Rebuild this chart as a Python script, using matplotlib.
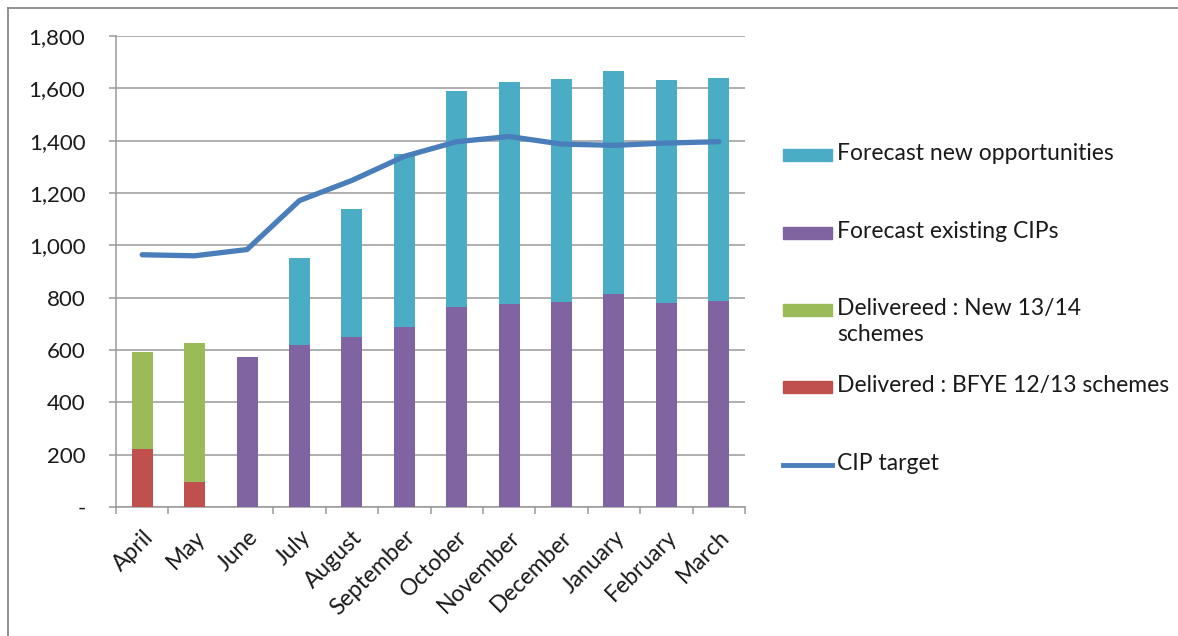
import matplotlib
matplotlib.use("Agg")
import matplotlib.pyplot as plt
import numpy as np
from matplotlib.ticker import FuncFormatter, MultipleLocator
from matplotlib.patches import Rectangle
from matplotlib.lines import Line2D

months = ["April", "May", "June", "July", "August", "September", "October",
          "November", "December", "January", "February", "March"]
delivered_bfye = [222, 95, 0, 0, 0, 0, 0, 0, 0, 0, 0, 0]
delivered_new = [372, 530, 0, 0, 0, 0, 0, 0, 0, 0, 0, 0]
forecast_existing = [0, 0, 575, 619, 648, 688, 765, 774, 785, 815, 781, 789]
forecast_new = [0, 0, 0, 333, 490, 661, 823, 852, 850, 850, 850, 852]
cip_target = [964, 960, 984, 1171, 1248, 1340, 1396, 1416, 1387, 1382, 1391, 1396]

legend_labels = ["Forecast new opportunities", "Forecast existing CIPs",
                 "Delivereed : New 13/14\nschemes", "Delivered : BFYE 12/13 schemes",
                 "CIP target"]

c_new = "#4BACC6"
c_exist = "#8064A2"
c_green = "#9BBB59"
c_red = "#C0504D"
c_line = "#4A7EBB"
grid_c = "#9a9a9a"
txt_c = "#1a1a1a"

plt.rcParams['font.family'] = ['Lato', 'DejaVu Sans']

W, H = 1178, 636
fig = plt.figure(figsize=(W / 100, H / 100), dpi=100)
ax = fig.add_axes([116 / W, 1 - 507 / H, (745 - 116) / W, (507 - 36) / H])

x = np.arange(len(months))
bw = 0.4
b1 = np.array(delivered_bfye)
b2 = b1 + np.array(delivered_new)
b3 = b2 + np.array(forecast_existing)
ax.bar(x, delivered_bfye, bw, color=c_red, zorder=3)
ax.bar(x, delivered_new, bw, bottom=b1, color=c_green, zorder=3)
ax.bar(x, forecast_existing, bw, bottom=b2, color=c_exist, zorder=3)
ax.bar(x, forecast_new, bw, bottom=b3, color=c_new, zorder=3)
ax.plot(x, cip_target, color=c_line, lw=3.8, solid_joinstyle='round',
        solid_capstyle='round', zorder=4)

ax.set_xlim(-0.5, len(months) - 0.5)
ax.set_ylim(0, 1800)
ax.yaxis.set_major_locator(MultipleLocator(200))
ax.yaxis.set_major_formatter(FuncFormatter(lambda v, p: "-" if v == 0 else f"{int(v):,}"))
ax.grid(axis='y', color=grid_c, lw=1.1, zorder=0)
ax.set_axisbelow(True)
for s in ['top', 'right']:
    ax.spines[s].set_visible(False)
for s in ['left', 'bottom']:
    ax.spines[s].set_color(grid_c)
    ax.spines[s].set_linewidth(1.1)

ax.set_xticks(x)
ax.set_xticklabels(months, rotation=45, ha='right', rotation_mode='anchor',
                   fontsize=16.5, color=txt_c)
ax.tick_params(axis='x', length=0, pad=14)
boundaries = [b for b in np.arange(-0.5, len(months)) if b != 1.5]
ax.set_xticks(boundaries, minor=True)
ax.tick_params(axis='x', which='minor', length=5, color=grid_c, width=1.1)
ax.tick_params(axis='y', length=5, color=grid_c, width=1.1, pad=17,
               labelsize=16, labelcolor=txt_c)

# outer frame (cropped)
fig.add_artist(Line2D([8 / W, 1.0], [1 - 8 / H, 1 - 8 / H], color='#7f7f7f', lw=1.2,
                      transform=fig.transFigure))
fig.add_artist(Line2D([8 / W, 8 / W], [0, 1 - 8 / H], color='#7f7f7f', lw=1.2,
                      transform=fig.transFigure))

# legend drawn manually
leg_y = [155, 233, 310, 387, 465]
leg_colors = [c_new, c_exist, c_green, c_red]
for i, lab in enumerate(legend_labels):
    yc = 1 - leg_y[i] / H
    if i < 4:
        fig.add_artist(Rectangle((783 / W, yc - 6 / H), 49 / W, 12 / H,
                                 color=leg_colors[i], transform=fig.transFigure))
    else:
        fig.add_artist(Line2D([783 / W, 832 / W], [yc, yc], color=c_line, lw=3.5,
                              transform=fig.transFigure))
    fig.text(837 / W, yc + 12 / H, lab, ha='left', va='top', fontsize=16.5,
             color=txt_c, linespacing=1.3)

fig.savefig("out.png", dpi=100)
